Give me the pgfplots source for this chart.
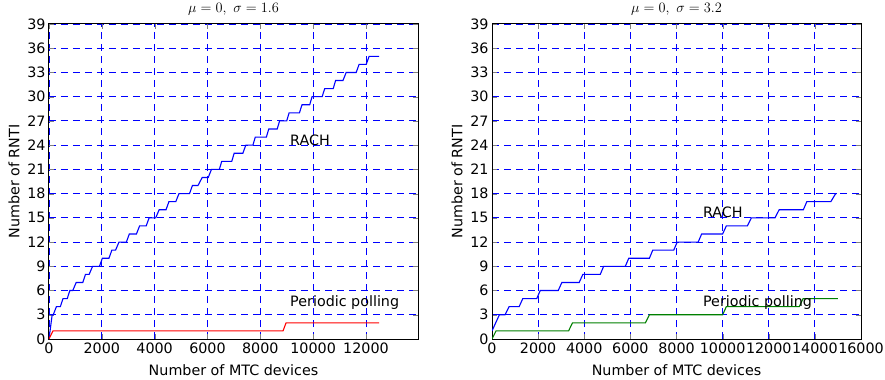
\documentclass[border=0pt]{standalone}
\usepackage{fontspec}
\setmainfont{DejaVu Sans}
\usepackage{pgfplots}
\pgfplotsset{compat=1.18}
\newcommand{\chartfont}{\fontsize{14.3bp}{17bp}\selectfont}
\pgfplotsset{
  every axis grid/.style={color=blue, line width=0.9bp, dash pattern=on 7bp off 5bp},
  mystyle/.style={
    scale only axis, width=369bp, height=315bp,
    anchor=south west,
    ymin=0, ymax=39, ytick={0,3,...,39},
    xmajorgrids=true, ymajorgrids=true,
    tick align=inside, major tick length=5bp,
    axis line style={line width=1bp},
    ticklabel style={font=\chartfont},
    label style={font=\chartfont},
    title style={font=\chartfont, at={(axis description cs:0.5,1)}, anchor=base, yshift=6bp},
    /pgf/number format/assume math mode=true,
    /pgf/number format/1000 sep={},
    scaled x ticks=false,
    xlabel={Number of MTC devices},
    ylabel={Number of RNTI},
    x label style={at={([yshift=-31bp]axis description cs:0.5,0)}, anchor=center},
    y label style={at={([xshift=-35bp]axis description cs:0,0.5)}, anchor=center},
  }
}
\begin{document}
\begin{tikzpicture}
\path[use as bounding box] (-49bp,-41bp) rectangle (836bp,339bp);
\begin{axis}[mystyle, at={(0,0)},
  xmin=0, xmax=13970, xtick={0,2000,...,12000},
  title={$\mu=0,\ \sigma=1.6$}]
\addplot[blue, line width=1.1bp] coordinates {
(0,0)(120,3)(160,3)(280,4)(430,4)(530,5)(690,5)(790,6)(900,6)(1030,7)(1280,7)(1380,8)(1520,8)(1650,9)(1910,9)(2020,10)(2270,10)(2380,11)(2520,11)(2650,12)(2930,12)(3040,13)(3310,13)(3430,14)(3680,14)(3790,15)(4040,15)(4170,16)(4430,16)(4540,17)(4800,17)(4920,18)(5320,18)(5430,19)(5640,19)(5800,20)(6030,20)(6150,21)(6450,21)(6540,22)(6920,22)(7010,23)(7340,23)(7450,24)(7720,24)(7810,25)(8230,25)(8320,26)(8640,26)(8730,27)(9000,27)(9090,28)(9480,28)(9580,29)(9870,29)(9960,30)(10340,30)(10440,31)(10760,31)(10850,32)(11130,32)(11250,33)(11630,33)(11740,34)(12010,34)(12120,35)(12500,35)
};
\addplot[red, line width=1.1bp] coordinates {
(0,0)(150,1)(8860,1)(8975,2)(12500,2)
};
\node[anchor=base west, font=\chartfont] at (axis cs:9000,24) {RACH};
\node[anchor=base west, font=\chartfont] at (axis cs:9000,4) {Periodic polling};
\end{axis}
\begin{axis}[mystyle, at={(443bp,0)},
  xmin=0, xmax=16000, xtick={0,2000,...,16000},
  title={$\mu=0,\ \sigma=3.2$}]
\addplot[blue, line width=1.1bp] coordinates {
(0,1)(320,3)(565,3)(740,4)(1175,4)(1335,5)(1940,5)(2090,6)(2870,6)(3030,7)(3780,7)(3940,8)(4695,8)(4840,9)(5780,9)(5930,10)(6825,10)(6970,11)(7880,11)(8030,12)(8940,12)(9090,13)(10000,13)(10160,14)(11070,14)(11245,15)(12270,15)(12450,16)(13500,16)(13650,17)(14690,17)(14900,18)(14950,18)
};
\addplot[green!50!black, line width=1.1bp] coordinates {
(0,0)(175,1)(3320,1)(3490,2)(6650,2)(6825,3)(10000,3)(10160,4)(13320,4)(13490,5)(15000,5)
};
\node[anchor=base west, font=\chartfont] at (axis cs:9000,15) {RACH};
\node[anchor=base west, font=\chartfont] at (axis cs:9000,4) {Periodic polling};
\end{axis}
\end{tikzpicture}
\end{document}
